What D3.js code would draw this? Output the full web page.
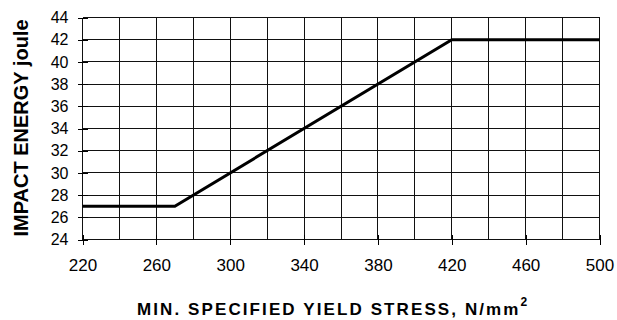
<!DOCTYPE html>
<html><head><meta charset="utf-8">
<script src="https://cdn.jsdelivr.net/npm/d3@7"></script>
<style>body{margin:0;background:#fff}svg{display:block}</style>
</head><body>
<script>
const xValues = [220, 270, 420, 500];
const yValues = [27, 27, 42, 42];
const xTickLabels = [220, 260, 300, 340, 380, 420, 460, 500];
const yTickLabels = [24, 26, 28, 30, 32, 34, 36, 38, 40, 42, 44];
const xGrid = d3.range(220, 501, 20);
const xTitle = "MIN. SPECIFIED YIELD STRESS, N/mm";
const yTitle = "IMPACT ENERGY joule";

const W = 617, H = 320;
const svg = d3.select("body").append("svg").attr("width", W).attr("height", H);
const x = d3.scaleLinear().domain([220, 500]).range([82.5, 599.5]);
const y = d3.scaleLinear().domain([24, 44]).range([239.5, 17.5]);

const g = svg.append("g");
g.selectAll(".vg").data(xGrid).join("line")
  .attr("x1", d => x(d)).attr("x2", d => x(d))
  .attr("y1", y(24)).attr("y2", y(44))
  .attr("stroke", "#111").attr("stroke-width", 1).attr("shape-rendering", "crispEdges");
g.selectAll(".hg").data(yTickLabels).join("line")
  .attr("x1", x(220)).attr("x2", x(500))
  .attr("y1", d => y(d)).attr("y2", d => y(d))
  .attr("stroke", "#111").attr("stroke-width", 1).attr("shape-rendering", "crispEdges");

const xAxis = d3.axisBottom(x).tickValues(xTickLabels).tickSize(5).tickPadding(14);
const gx = svg.append("g").attr("transform", `translate(0,${y(24)})`).call(xAxis);
gx.select(".domain").remove();
gx.selectAll(".tick line").attr("y1", -5).attr("stroke", "#000").attr("shape-rendering", "crispEdges");
gx.selectAll(".tick text").attr("font-family", "Liberation Sans, Arial, sans-serif").attr("font-size", 17).attr("fill", "#000");

const yAxis = d3.axisLeft(y).tickValues(yTickLabels).tickSize(5).tickPadding(9);
const gy = svg.append("g").attr("transform", `translate(${x(220)},0)`).call(yAxis);
gy.select(".domain").remove();
gy.selectAll(".tick line").attr("x1", 5).attr("stroke", "#000").attr("shape-rendering", "crispEdges");
gy.selectAll(".tick text").attr("font-family", "Liberation Sans, Arial, sans-serif").attr("font-size", 16).attr("fill", "#000");

const line = d3.line().x(d => x(d[0])).y(d => y(d[1]));
svg.append("path").datum(xValues.map((v, i) => [v, yValues[i]]))
  .attr("d", line).attr("fill", "none").attr("stroke", "#000").attr("stroke-width", 3);

const xt = svg.append("text").attr("x", 137).attr("y", 315).attr("text-anchor", "start")
  .attr("font-family", "Liberation Sans, Arial, sans-serif").attr("font-weight", "bold")
  .attr("font-size", 17).attr("letter-spacing", 2.1).attr("fill", "#000").text(xTitle);
xt.append("tspan").attr("dy", -9).attr("font-size", 12).attr("letter-spacing", 0).text("2");

svg.append("text").attr("transform", `translate(27.5,128) rotate(-90)`).attr("text-anchor", "middle")
  .attr("font-family", "Liberation Sans, Arial, sans-serif").attr("font-weight", "bold")
  .attr("font-size", 20).attr("fill", "#000").text(yTitle);
</script>
</body></html>
